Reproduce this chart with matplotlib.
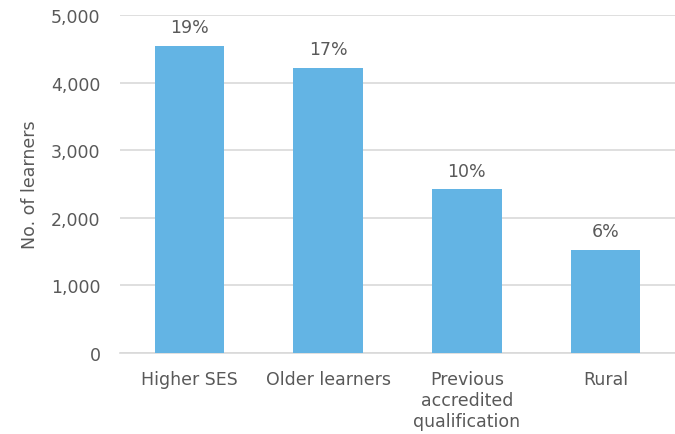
import matplotlib
matplotlib.use("Agg")
import matplotlib.pyplot as plt

categories = ["Higher SES", "Older learners", "Previous\naccredited\nqualification", "Rural"]
learners = [4540, 4215, 2420, 1525]
shares = ["19%", "17%", "10%", "6%"]
yticks = [0, 1000, 2000, 3000, 4000, 5000]

TEXT = "#595959"
GRID = "#d9d9d9"
BAR = "#63b4e4"

plt.rcParams["font.family"] = ["DejaVu Sans"]
plt.rcParams["font.size"] = 12.5

fig = plt.figure(figsize=(6.75, 4.35), dpi=100)
ax = fig.add_axes([120 / 675, 1 - 354 / 435, 555 / 675, 338 / 435])

x = range(len(categories))
bars = ax.bar(x, learners, width=0.5, color=BAR, zorder=3)
for b, s in zip(bars, shares):
    ax.annotate(s, (b.get_x() + b.get_width() / 2, b.get_height()),
                xytext=(0, 7), textcoords="offset points",
                ha="center", va="bottom", color=TEXT)

ax.set_xlim(-0.5, 3.5)
ax.set_ylim(0, 5000)
ax.set_yticks(yticks)
ax.set_yticklabels([f"{v:,}" for v in yticks])
ax.set_xticks(list(x))
ax.set_xticklabels(categories, linespacing=1.22)
ax.tick_params(length=0, colors=TEXT, labelsize=12.5)
ax.tick_params(axis="x", pad=12)
ax.tick_params(axis="y", pad=14)
ax.yaxis.grid(True, color=GRID, linewidth=1.2, zorder=0)
for side in ("top", "right", "left"):
    ax.spines[side].set_visible(False)
ax.spines["bottom"].set_color(GRID)
ax.spines["bottom"].set_linewidth(1.2)
ax.set_ylabel("No. of learners", color=TEXT, labelpad=9)

fig.savefig("out.png", dpi=100)
